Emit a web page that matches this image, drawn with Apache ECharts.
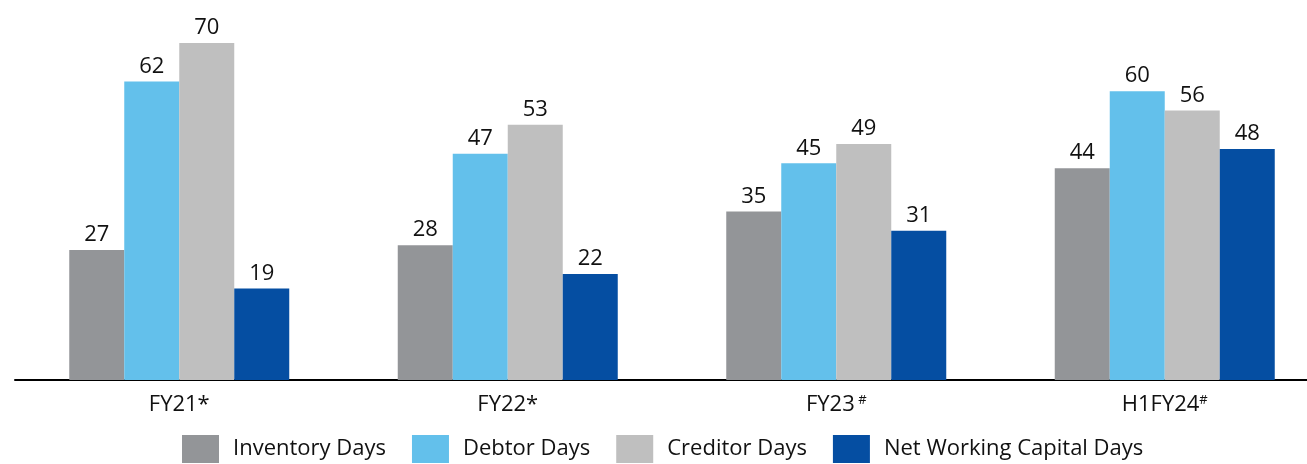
<!DOCTYPE html>
<html>
<head>
    <meta charset="utf-8">
    <title>Working Capital Days</title>
    <script type="text/javascript" src="https://cdn.jsdelivr.net/npm/echarts@6/dist/echarts.min.js"></script>
    <style>
        html, body { margin: 0; padding: 0; background: #fff; overflow: hidden; }
    </style>
</head>
<body>
<!-- chart is a bit wider than the window so the last category keeps full width -->
<div id="main" style="width: 1329px;height:464px;"></div>

<script type="text/javascript">
    // data
    var categories = ['FY21', 'FY22', 'FY23', 'H1FY24'];
    var marks = ['*', '*', '#', '#'];
    var inventoryDays = [27, 28, 35, 44];
    var debtorDays = [62, 47, 45, 60];
    var creditorDays = [70, 53, 49, 56];
    var nwcDays = [19, 22, 31, 48];

    var font = 'Open Sans, Noto Sans, sans-serif';
    var chart = echarts.init(document.getElementById('main'));

    function bar(name, data, color) {
        return {
            name: name,
            type: 'bar',
            data: data,
            barWidth: 55,
            barGap: '0%',
            itemStyle: { color: color },
            label: {
                show: true,
                position: 'top',
                distance: 4,
                color: '#111',
                fontSize: 22,
                fontFamily: font
            }
        };
    }

    var option = {
        animation: false,
        grid: { left: 15, top: 43, bottom: 84, right: 0, containLabel: false },
        legend: {
            bottom: 1,
            left: 182,
            padding: 0,
            icon: 'rect',
            itemWidth: 37,
            itemHeight: 28,
            itemGap: 26,
            textStyle: { fontSize: 22, color: '#111', fontFamily: font, padding: [0, 0, 0, 9] }
        },
        xAxis: {
            type: 'category',
            data: categories,
            axisLine: { lineStyle: { color: '#000', width: 2 } },
            axisTick: { show: false },
            axisLabel: {
                margin: 14,
                formatter: function (v, i) {
                    return v + (marks[i] === '*' ? '{star|*}' : '{sup|' + (i === 2 ? ' ' : '') + '#}');
                },
                color: '#111',
                fontSize: 22,
                fontFamily: font,
                rich: {
                    star: { fontSize: 22, color: '#111', fontFamily: font },
                    sup: { fontSize: 13, color: '#111', fontFamily: font, verticalAlign: 'top', padding: [0, 0, 9, 0] }
                }
            }
        },
        yAxis: {
            type: 'value',
            min: 0,
            max: 70,
            show: false,
            splitLine: { show: false }
        },
        series: [
            bar('Inventory Days', inventoryDays, '#939598'),
            bar('Debtor Days', debtorDays, '#63C0EB'),
            bar('Creditor Days', creditorDays, '#BFBFBF'),
            bar('Net Working Capital Days', nwcDays, '#054EA2')
        ]
    };
    chart.setOption(option);
</script>
</body>
</html>
